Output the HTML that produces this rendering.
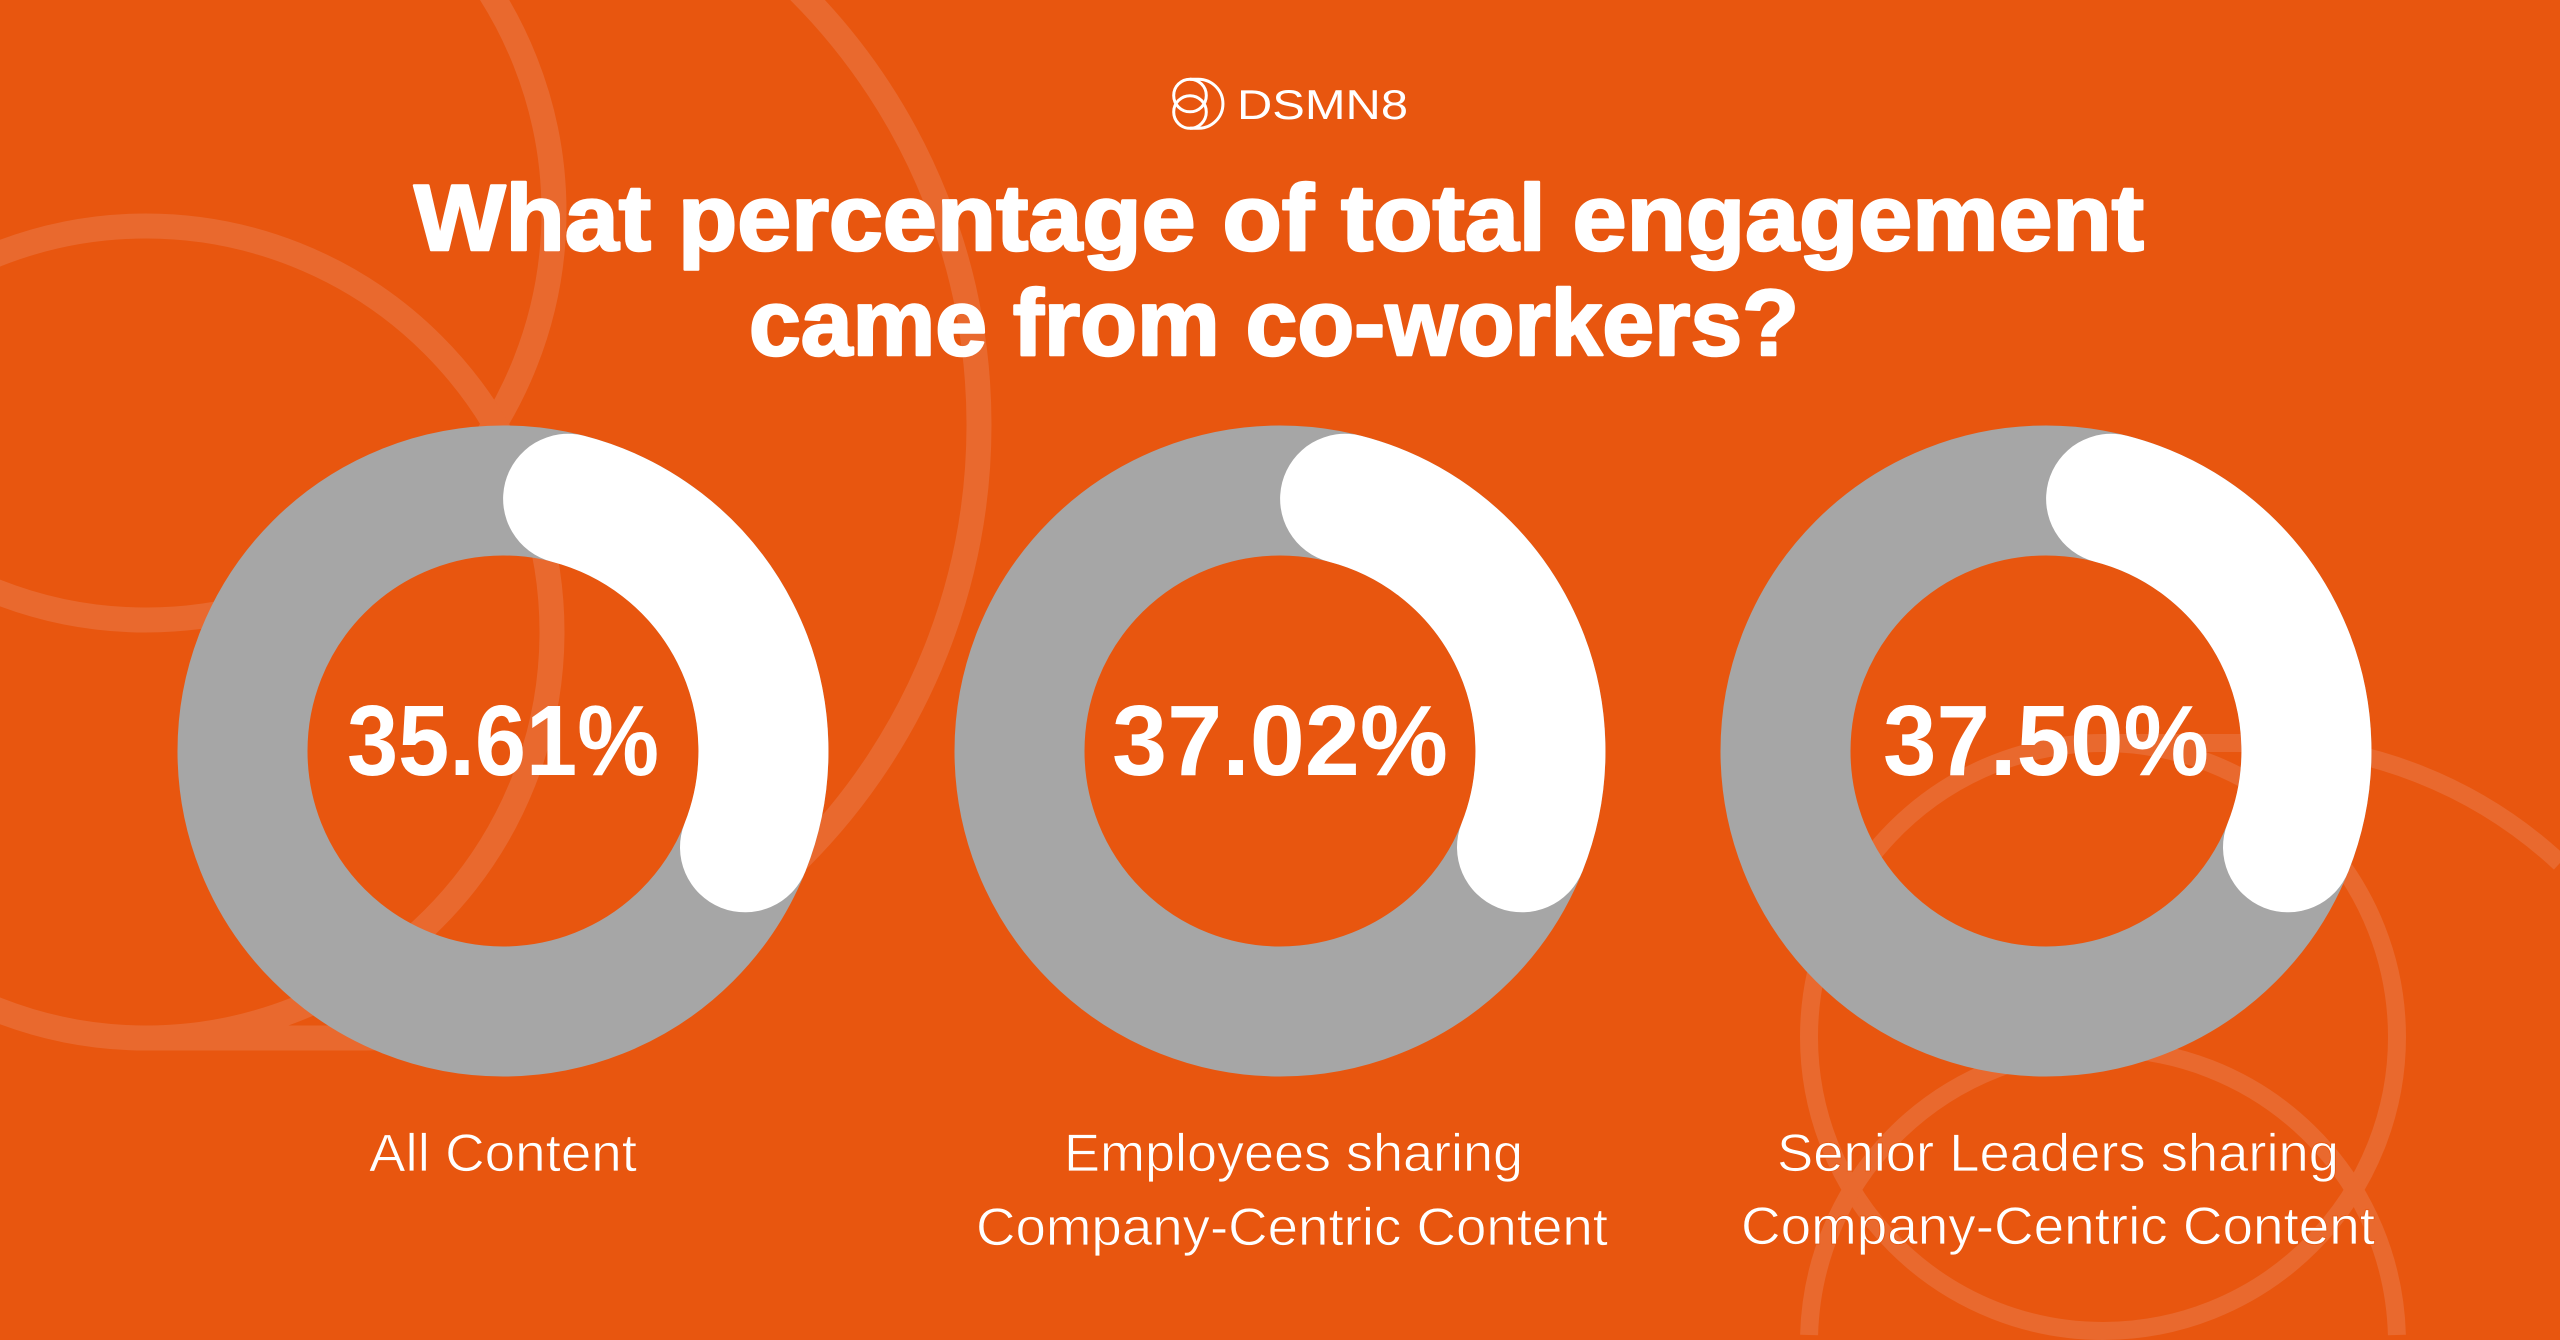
<!DOCTYPE html>
<html>
<head>
<meta charset="utf-8">
<style>
  html, body { margin: 0; padding: 0; background: #E8560F; width: 2560px; height: 1340px; overflow: hidden; }
  svg { display: block; overflow: hidden; }
  text { font-family: "Liberation Sans", "DejaVu Sans", sans-serif; fill: #ffffff; }
</style>
</head>
<body>
<svg width="2560" height="1340" viewBox="0 0 2560 1340" xmlns="http://www.w3.org/2000/svg">
  <defs>
    <clipPath id="frame"><rect x="0" y="0" width="2560" height="1340"/></clipPath>
  </defs>
  <g clip-path="url(#frame)">
  <rect x="0" y="0" width="2560" height="1340" fill="#E8560F"/>

  <!-- decorative background shapes (left) -->
  <g fill="none" stroke="#E9692E" stroke-width="25">
    <circle cx="146" cy="212" r="408"/>
    <circle cx="146" cy="632" r="406"/>
    <path d="M146 1038 L366 1038 A613 613 0 0 0 979 425 A613 613 0 0 0 366 -188 L146 -188"/>
  </g>

  <!-- decorative background shapes (right) -->
  <g fill="none" stroke="#E9692E" stroke-width="18">
    <circle cx="2103" cy="1037" r="294"/>
    <path d="M1809.1 1335 A294 294 0 0 1 2396.9 1335"/>
    <path d="M2103 743 L2255 743 A446 446 0 0 1 2560 863"/>
  </g>

  <!-- logo -->
  <g fill="none" stroke="#ffffff" stroke-width="3">
    <circle cx="1190" cy="95.5" r="16.3"/>
    <circle cx="1190" cy="112" r="16.3"/>
    <path d="M1190 79.2 L1198.4 79.2 A24.55 24.55 0 0 1 1198.4 128.3 L1190 128.3"/>
  </g>
  <text x="1237" y="119" font-size="42" textLength="171" lengthAdjust="spacingAndGlyphs">DSMN8</text>

  <!-- title -->
  <g stroke="#ffffff" stroke-width="2.5" stroke-linejoin="round">
    <text x="414" y="250" font-size="94" font-weight="bold" textLength="1730" lengthAdjust="spacingAndGlyphs">What percentage of total engagement</text>
    <text x="749" y="355" font-size="94" font-weight="bold" textLength="1050" lengthAdjust="spacingAndGlyphs">came from co-workers?</text>
  </g>

  <!-- donut 1 -->
  <circle cx="503" cy="751" r="260.5" fill="none" stroke="#A6A6A6" stroke-width="130"/>
  <path d="M568.1 498.8 A260.5 260.5 0 0 1 745 847.3" fill="none" stroke="#ffffff" stroke-width="130" stroke-linecap="round"/>
  <text x="347" y="775" font-size="100" font-weight="bold" textLength="312" lengthAdjust="spacingAndGlyphs">35.61%</text>

  <!-- donut 2 -->
  <circle cx="1280" cy="751" r="260.5" fill="none" stroke="#A6A6A6" stroke-width="130"/>
  <path d="M1345.1 498.8 A260.5 260.5 0 0 1 1522 847.3" fill="none" stroke="#ffffff" stroke-width="130" stroke-linecap="round"/>
  <text x="1112" y="775" font-size="100" font-weight="bold" textLength="336" lengthAdjust="spacingAndGlyphs">37.02%</text>

  <!-- donut 3 -->
  <circle cx="2046" cy="751" r="260.5" fill="none" stroke="#A6A6A6" stroke-width="130"/>
  <path d="M2111.1 498.8 A260.5 260.5 0 0 1 2288 847.3" fill="none" stroke="#ffffff" stroke-width="130" stroke-linecap="round"/>
  <text x="1883" y="775" font-size="100" font-weight="bold" textLength="326" lengthAdjust="spacingAndGlyphs">37.50%</text>

  <!-- labels -->
  <g stroke="#E8560F" stroke-width="0.8">
    <text x="369" y="1171" font-size="53" textLength="268" lengthAdjust="spacingAndGlyphs">All Content</text>
    <text x="1064" y="1171" font-size="53" textLength="459" lengthAdjust="spacingAndGlyphs">Employees sharing</text>
    <text x="976" y="1245" font-size="53" textLength="632" lengthAdjust="spacingAndGlyphs">Company-Centric Content</text>
    <text x="1777" y="1171" font-size="53" textLength="562" lengthAdjust="spacingAndGlyphs">Senior Leaders sharing</text>
    <text x="1741" y="1244" font-size="53" textLength="634" lengthAdjust="spacingAndGlyphs">Company-Centric Content</text>
  </g>
  </g>
</svg>
</body>
</html>
